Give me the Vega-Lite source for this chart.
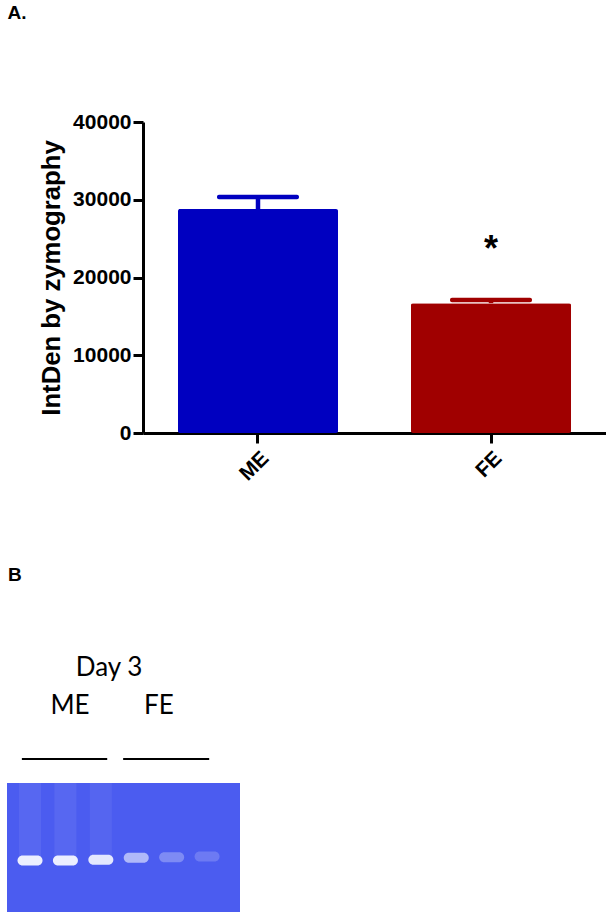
{
  "$schema": "https://vega.github.io/schema/vega-lite/v6.json",
  "padding": {"left": 7, "top": 4, "right": 0, "bottom": 0},
  "spacing": 80,
  "background": "white",
  "config": {"view": {"stroke": null}, "font": "Liberation Sans"},
  "vconcat": [
    {
      "title": {"text": "A.", "anchor": "start", "frame": "bounds", "dx": -31, "offset": 88, "fontSize": 19, "fontWeight": "bold", "color": "black"},
      "width": 463,
      "height": 311,
      "data": {"values": [
        {"group": "ME", "mean": 28800, "upper": 30350},
        {"group": "FE", "mean": 16700, "upper": 17100}
      ]},
      "encoding": {
        "x": {"field": "group", "type": "nominal", "sort": ["ME", "FE"],
          "scale": {"paddingInner": 0.313, "paddingOuter": 0.15},
          "axis": {"title": null, "labelAngle": -45, "labelFontSize": 21, "labelFontWeight": "bold", "labelColor": "black",
            "domainColor": "black", "domainWidth": 3, "tickColor": "black", "tickWidth": 3, "tickSize": 10, "labelPadding": 4}}
      },
      "layer": [
        {
          "mark": {"type": "bar", "cornerRadius": 2},
          "encoding": {
            "y": {"field": "mean", "type": "quantitative", "scale": {"domain": [0, 40000]},
              "axis": {"title": "IntDen by zymography", "titleFontSize": 25.7, "titleFontWeight": "bold", "titleColor": "black",
                "titlePadding": 8, "values": [0, 10000, 20000, 30000, 40000], "format": "d",
                "labelFontSize": 21, "labelFontWeight": "bold", "labelColor": "black", "labelPadding": 2,
                "domainColor": "black", "domainWidth": 3, "tickColor": "black", "tickWidth": 3, "tickSize": 10, "grid": false}},
            "color": {"field": "group", "type": "nominal", "scale": {"domain": ["ME", "FE"], "range": ["#0000C0", "#A00000"]}, "legend": null}
          }
        },
        {
          "mark": {"type": "rule", "strokeWidth": 4.5, "opacity": 1},
          "encoding": {
            "y": {"field": "mean", "type": "quantitative"},
            "y2": {"field": "upper"},
            "color": {"field": "group", "type": "nominal", "legend": null}
          }
        },
        {
          "mark": {"type": "tick", "thickness": 4.5, "size": 82, "cornerRadius": 2, "opacity": 1},
          "encoding": {
            "y": {"field": "upper", "type": "quantitative"},
            "color": {"field": "group", "type": "nominal", "legend": null}
          }
        },
        {
          "data": {"values": [{"group": "FE", "label": "*", "pos": 23500}]},
          "mark": {"type": "text", "fontSize": 36, "fontWeight": "bold", "color": "black"},
          "encoding": {
            "y": {"field": "pos", "type": "quantitative"},
            "text": {"field": "label"}
          }
        }
      ]
    },
    {
      "title": {"text": "B", "anchor": "start", "frame": "group", "dx": -135, "offset": 70, "fontSize": 19, "fontWeight": "bold", "color": "black"},
      "width": 97,
      "height": 129,
      "layer": [
        {
          "data": {"values": [{"gel": "zymogram", "first": 0.35, "last": 6.93, "bottom": 0, "top": 10}]},
          "mark": {"type": "rect", "color": "#4B5CF0"},
          "encoding": {
            "x": {"field": "first", "type": "quantitative", "scale": {"domain": [0.35, 6.93], "range": [-136, 97], "nice": false, "zero": false}, "axis": null},
            "x2": {"field": "last"},
            "y": {"field": "bottom", "type": "quantitative", "scale": {"domain": [0, 10], "nice": false, "zero": false}, "axis": null},
            "y2": {"field": "top"}
          }
        },
        {
          "data": {"values": [
            {"lane": 1, "migration": 4.0, "intensity": 0.07},
            {"lane": 2, "migration": 4.0, "intensity": 0.07},
            {"lane": 3, "migration": 4.05, "intensity": 0.06}
          ]},
          "mark": {"type": "rule", "strokeWidth": 22, "color": "white"},
          "encoding": {
            "x": {"field": "lane", "type": "quantitative"},
            "y": {"field": "migration", "type": "quantitative"},
            "y2": {"datum": 10},
            "opacity": {"field": "intensity", "type": "quantitative", "scale": null}
          }
        },
        {
          "data": {"values": [
            {"lane": 1, "migration": 4.0, "intensity": 0.95},
            {"lane": 2, "migration": 4.0, "intensity": 0.95},
            {"lane": 3, "migration": 4.05, "intensity": 0.9},
            {"lane": 4, "migration": 4.2, "intensity": 0.6},
            {"lane": 5, "migration": 4.25, "intensity": 0.3},
            {"lane": 6, "migration": 4.3, "intensity": 0.2}
          ]},
          "mark": {"type": "tick", "orient": "horizontal", "size": 25, "thickness": 10, "cornerRadius": 5, "color": "#F4F7FF"},
          "encoding": {
            "x": {"field": "lane", "type": "quantitative"},
            "y": {"field": "migration", "type": "quantitative"},
            "opacity": {"field": "intensity", "type": "quantitative", "scale": null}
          }
        },
        {
          "data": {"values": [
            {"label": "Day 3", "pos": 3.23, "level": 18.3},
            {"label": "ME", "pos": 2.13, "level": 15.35},
            {"label": "FE", "pos": 4.64, "level": 15.35}
          ]},
          "mark": {"type": "text", "font": "Lato", "fontSize": 26, "color": "black", "align": "center", "baseline": "alphabetic"},
          "encoding": {
            "x": {"field": "pos", "type": "quantitative"},
            "y": {"field": "level", "type": "quantitative"},
            "text": {"field": "label"}
          }
        },
        {
          "data": {"values": [
            {"group": "ME", "start": 0.77, "end": 3.18, "level": 11.86},
            {"group": "FE", "start": 3.63, "end": 6.06, "level": 11.86}
          ]},
          "mark": {"type": "rule", "strokeWidth": 2, "color": "black"},
          "encoding": {
            "x": {"field": "start", "type": "quantitative"},
            "x2": {"field": "end"},
            "y": {"field": "level", "type": "quantitative"}
          }
        }
      ]
    }
  ]
}
